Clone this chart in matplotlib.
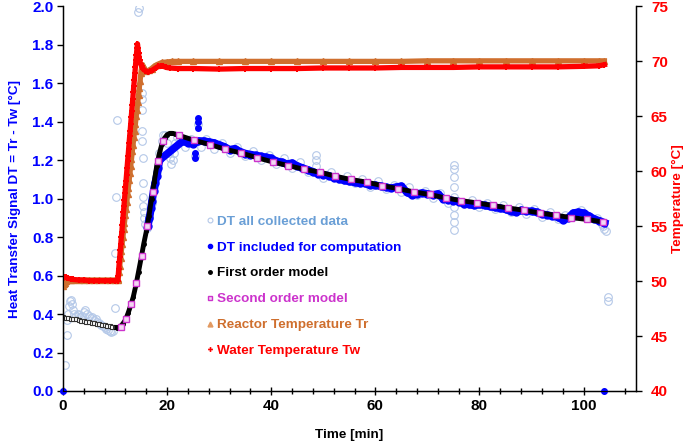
import numpy as np
import matplotlib.pyplot as plt
from matplotlib.lines import Line2D
from matplotlib.ticker import MultipleLocator

plt.rcParams['font.family'] = ['Liberation Sans', 'DejaVu Sans']
plt.rcParams['font.weight'] = 'bold'

# DT all collected data (light circles)
all_t = [0.3, 0.8, 0.7, 1.0, 1.2, 1.4, 1.6, 1.8, 2.0, 2.2, 2.5, 2.8, 3.0, 3.3, 3.6, 4.0, 4.3, 4.6,
         5.0, 5.3, 5.6, 6.0, 6.3, 6.6, 7.0, 7.3, 7.6, 8.0, 8.3, 8.6, 9.0, 9.3, 9.6, 10.0, 10.0,
         10.2, 10.3, 14.4, 14.5, 15.1, 15.1, 15.1, 15.1, 15.1, 15.3, 15.3, 15.4, 15.4, 15.5, 15.6,
         15.8, 16.1, 16.5, 17.0, 17.5, 18.0, 18.5, 19.0, 19.3, 19.6, 19.9, 20.3, 20.5, 20.7, 21.1,
         21.4, 21.6, 21.9, 22.5, 23.5, 24.5, 25.4, 25.9, 26.5, 27.5, 29, 30.5, 32, 33.5, 35, 36.5,
         38, 39.5, 41, 42.5, 44, 45.5, 47, 48.5, 48.5, 48.5, 50, 51.5, 53, 54.5, 56, 57.5, 59,
         60.5, 62, 63.5, 65, 66.5, 68, 69.5, 71, 72.5, 74, 75.1, 75.1, 75.1, 75.1, 75.1, 75.1,
         75.1, 75.1, 75.1, 77, 78.5, 80, 81.5, 83, 84.5, 86, 87.5, 89, 90.5, 92, 93.5, 95, 96.5,
         98, 99.5, 101, 102.6, 103.2, 103.5, 103.8, 104.0, 104.3, 104.6, 104.6]
all_v = [0.135, 0.29, 0.37, 0.40, 0.44, 0.47, 0.475, 0.45, 0.42, 0.40, 0.39, 0.40, 0.395, 0.385,
         0.39, 0.41, 0.42, 0.40, 0.39, 0.38, 0.385, 0.37, 0.375, 0.36, 0.355, 0.345, 0.34, 0.335,
         0.325, 0.315, 0.31, 0.305, 0.31, 0.43, 0.72, 1.01, 1.41, 1.97, 1.99, 1.55, 1.52, 1.46,
         1.35, 1.30, 1.21, 1.08, 1.01, 0.96, 0.93, 0.90, 0.87, 0.85, 0.90, 0.98, 1.06, 1.14, 1.24,
         1.30, 1.33, 1.33, 1.29, 1.24, 1.21, 1.18, 1.20, 1.24, 1.29, 1.32, 1.30, 1.27, 1.31, 1.22,
         1.39, 1.27, 1.31, 1.26, 1.29, 1.24, 1.27, 1.22, 1.25, 1.20, 1.23, 1.18, 1.21, 1.16, 1.19,
         1.14, 1.23, 1.20, 1.17, 1.11, 1.14, 1.10, 1.12, 1.08, 1.10, 1.06, 1.09, 1.05, 1.07, 1.035,
         1.06, 1.02, 1.04, 1.005, 1.03, 0.98, 1.174, 1.157, 1.113, 1.061, 1.01, 0.957, 0.914, 0.879,
         0.836, 0.97, 0.995, 0.955, 0.98, 0.945, 0.965, 0.93, 0.955, 0.92, 0.945, 0.905, 0.93,
         0.895, 0.915, 0.905, 0.94, 0.90, 0.90, 0.885, 0.87, 0.86, 0.845, 0.83, 0.49, 0.467]

# DT included for computation (blue)
incl_t = [16.3, 16.6, 16.9, 17.1, 17.4, 17.7, 18.0, 18.3, 18.5,
          23, 24, 25, 26, 27, 28, 29, 30, 31, 32, 33, 34, 35, 36, 37, 38, 39, 40, 41, 42, 43, 44,
          45, 46, 47, 48, 49, 50, 51, 52, 53, 54, 55, 56, 57, 58, 59, 60, 61, 62, 63, 64, 65, 66,
          67, 68, 69, 70, 71, 72, 73, 74, 75, 76, 77, 78, 79, 80, 81, 82, 83, 84, 85, 86, 87, 88,
          89, 90, 91, 92, 93, 94, 95, 96, 97, 98, 99, 100, 101, 102, 103, 104]
incl_v = [0.86, 0.90, 0.95, 0.99, 1.04, 1.08, 1.12, 1.16, 1.20,
          1.30, 1.29, 1.285, 1.30, 1.30, 1.295, 1.29, 1.28, 1.27, 1.255, 1.26, 1.245, 1.235, 1.23,
          1.225, 1.22, 1.215, 1.21, 1.195, 1.19, 1.18, 1.185, 1.17, 1.16, 1.15, 1.14, 1.13, 1.125,
          1.12, 1.11, 1.105, 1.095, 1.09, 1.085, 1.08, 1.08, 1.07, 1.07, 1.065, 1.06, 1.055, 1.06,
          1.065, 1.035, 1.02, 1.025, 1.03, 1.025, 1.02, 1.025, 1.0, 0.995, 0.99, 0.985, 0.975, 0.97,
          0.965, 0.97, 0.965, 0.96, 0.955, 0.95, 0.945, 0.935, 0.93, 0.94, 0.935, 0.935, 0.93,
          0.92, 0.915, 0.91, 0.905, 0.89, 0.90, 0.925, 0.93, 0.925, 0.91, 0.895, 0.885, 0.875]
incl_out_t = [0, 25.4, 25.4, 25.9, 25.9, 25.9, 104]
incl_out_v = [0.0, 1.24, 1.21, 1.42, 1.40, 1.37, 0.0]

# first order model
fo_pre_t = [0, 0.5, 1, 1.5, 2, 2.5, 3, 3.5, 4, 4.5, 5, 5.5, 6, 6.5, 7, 7.5, 8, 8.5, 9, 9.5, 10]
fo_pre_v = [0.385, 0.382, 0.380, 0.377, 0.374, 0.372, 0.369, 0.366, 0.364, 0.361, 0.358, 0.356,
            0.353, 0.350, 0.348, 0.345, 0.342, 0.340, 0.337, 0.335, 0.332]
fo_t = [10.3, 10.6, 11.0, 11.5, 12.0, 12.5, 13.0, 13.5, 14.0, 14.5, 15.0, 15.5, 16.0, 16.5, 17.0,
        17.5, 18.0, 18.5, 19.0, 19.5, 20.0, 20.5, 21.0, 21.5, 22.2, 25.2, 28.3, 31.2, 34.2, 37.2,
        40.3, 43.3, 46.3, 49.4, 52.3, 55.3, 58.4, 61.3, 64.4, 67.5, 70.4, 73.5, 76.5, 79.6, 82.5,
        85.5, 88.5, 91.6, 94.6, 97.6, 100.7, 104.0]
fo_v = [0.33, 0.33, 0.335, 0.35, 0.37, 0.405, 0.445, 0.49, 0.55, 0.62, 0.69, 0.765, 0.83, 0.91,
        1.0, 1.085, 1.17, 1.235, 1.285, 1.315, 1.333, 1.34, 1.34, 1.337, 1.33, 1.304, 1.281, 1.257,
        1.238, 1.214, 1.191, 1.172, 1.153, 1.138, 1.117, 1.10, 1.086, 1.068, 1.052, 1.035, 1.022,
        1.004, 0.99, 0.978, 0.965, 0.952, 0.94, 0.926, 0.914, 0.902, 0.892, 0.878]

# second order model
so_t = [11.1, 12.1, 13.1, 14.1, 15.1, 16.2, 17.2, 18.2, 19.2, 22.2, 25.2, 28.3, 31.2, 34.2, 37.2,
        40.3, 43.3, 46.3, 49.4, 52.3, 55.3, 58.4, 61.3, 64.4, 67.5, 70.4, 73.5, 76.5, 79.6, 82.5,
        85.5, 88.5, 91.6, 94.6, 97.6, 100.7, 103.7]
so_v = [0.334, 0.374, 0.452, 0.56, 0.70, 0.857, 1.033, 1.197, 1.30, 1.33, 1.304, 1.281, 1.257,
        1.238, 1.214, 1.191, 1.172, 1.153, 1.138, 1.117, 1.10, 1.086, 1.068, 1.052, 1.035, 1.022,
        1.004, 0.99, 0.978, 0.965, 0.952, 0.94, 0.926, 0.914, 0.902, 0.892, 0.88]

# reactor temperature Tr [°C]
tr_t = [0, 0.2, 0.4, 0.6, 0.8, 1.0, 1.5, 2, 3, 4, 5, 6, 7, 8, 9, 10, 10.5,
        10.6, 10.75, 10.9, 11.05, 11.2, 11.35, 11.5, 11.65, 11.8, 11.95, 12.1, 12.25, 12.4, 12.55,
        12.7, 12.85, 13.0, 13.15, 13.3, 13.45, 13.6, 13.75, 13.9, 14.05, 14.2, 14.35, 14.5, 14.65,
        14.8, 14.95, 15.1, 15.3, 15.6, 16.0, 16.5, 17, 17.5, 18, 18.5, 19, 20, 21, 22, 25, 30, 35,
        40, 45, 50, 55, 60, 65, 70, 75, 80, 85, 90, 95, 100, 103, 104]
tr_v = [49.6, 49.7, 49.85, 50.0, 50.1, 50.15, 50.1, 50.1, 50.1, 50.1, 50.1, 50.1, 50.1, 50.1, 50.1,
        50.1, 50.1,
        50.2, 50.8, 51.4, 52.1, 52.7, 53.4, 54.0, 54.7, 55.3, 56.0, 56.6, 57.2, 57.9, 58.5, 59.2,
        59.8, 60.5, 61.1, 61.8, 62.4, 63.1, 63.7, 64.3, 65.0, 65.6, 66.3, 66.9, 67.6, 68.2, 68.9,
        69.5, 69.65, 69.4, 69.1, 69.2, 69.35, 69.55, 69.7, 69.8, 69.9, 69.95, 70.0, 70.0, 70.0,
        70.0, 70.0, 70.0, 70.0, 70.0, 70.0, 70.0, 70.0, 70.05, 70.05, 70.05, 70.05, 70.05, 70.05,
        70.05, 70.05, 70.05]

# water temperature Tw [°C]
tw_t = [0, 0.2, 0.4, 0.6, 0.8, 1.0, 1.5, 2, 3, 4, 5, 6, 7, 8, 9, 10, 10.5,
        10.6, 10.7, 10.8, 10.9, 11.0, 11.1, 11.2, 11.3, 11.4, 11.5, 11.6, 11.7, 11.8, 11.9, 12.0,
        12.1, 12.2, 12.3, 12.4, 12.5, 12.6, 12.7, 12.8, 12.9, 13.0, 13.1, 13.2, 13.3, 13.4, 13.5,
        13.6, 13.7, 13.8, 13.9, 14.0, 14.1, 14.2, 14.3, 14.4, 14.5, 14.6, 14.7, 14.9, 15.1, 15.4,
        15.8, 16.3, 16.8, 17.3, 17.8, 18.3, 18.8, 19.3, 19.8, 20.5, 22, 25, 30, 35, 40, 45, 50, 55,
        60, 65, 70, 75, 80, 85, 90, 95, 100, 103, 104]
tw_v = [50.25, 50.35, 50.4, 50.35, 50.3, 50.25, 50.2, 50.15, 50.1, 50.1, 50.05, 50.05, 50.05,
        50.05, 50.05, 50.05, 50.05,
        50.5, 51.1, 51.7, 52.2, 52.8, 53.4, 54.0, 54.5, 55.1, 55.7, 56.3, 56.8, 57.4, 58.0, 58.6,
        59.1, 59.7, 60.3, 60.9, 61.4, 62.0, 62.6, 63.2, 63.7, 64.3, 64.9, 65.5, 66.0, 66.6, 67.2,
        67.8, 68.3, 68.9, 69.5, 70.1, 70.6, 71.2, 71.6, 71.2, 70.8, 70.4, 70.1, 69.8, 69.55, 69.3,
        69.15, 69.05, 69.1, 69.25, 69.4, 69.55, 69.6, 69.55, 69.45, 69.4, 69.35, 69.35, 69.3,
        69.35, 69.35, 69.35, 69.4, 69.4, 69.4, 69.45, 69.45, 69.45, 69.5, 69.5, 69.5, 69.5, 69.55,
        69.6, 69.7]

c_light = '#b4c8e8'
c_light_txt = '#6a9fd6'
c_blue = '#0000ff'
c_mag = '#cc33cc'
c_orange = '#cf6f2e'
c_red = '#ff0000'

fig = plt.figure(figsize=(6.85, 4.42), dpi=100)
ax1 = fig.add_axes([0.092, 0.1154, 0.836, 0.870])
ax2 = ax1.twinx()

ax1.plot(all_t, all_v, 'o', ms=5.5, mfc='none', mec=c_light, mew=0.8)
ax1.plot(incl_t, incl_v, 'o-', color=c_blue, ms=5, lw=5.5)
ax1.plot(incl_out_t, incl_out_v, 'o', color=c_blue, ms=4, clip_on=False, zorder=5)
ax1.plot(fo_pre_t, fo_pre_v, 's', ms=3.5, mfc='white', mec='#333333', mew=0.8)
ax1.plot(fo_t, fo_v, '-', color='black', lw=3.5)
ax1.plot(fo_t, fo_v, 'o', color='black', ms=2.5)
ax1.plot(so_t, so_v, 's', ms=4, mfc='#f3d6f3', mec=c_mag, mew=1)

ax2.plot(tr_t, tr_v, '^-', color=c_orange, ms=4, lw=3.8)
ax2.plot(tw_t, tw_v, 'P-', color=c_red, ms=4.5, lw=3.8, mew=0)

ax1.set_xlim(0, 110)
ax1.set_ylim(0, 2.0)
ax2.set_ylim(40, 75)
ax1.xaxis.set_major_locator(MultipleLocator(20))
ax1.xaxis.set_minor_locator(MultipleLocator(4))
ax1.yaxis.set_major_locator(MultipleLocator(0.2))
ax2.yaxis.set_major_locator(MultipleLocator(5))
ax1.yaxis.set_major_formatter(plt.FormatStrFormatter('%.1f'))

ax1.spines['top'].set_visible(False)
ax2.spines['top'].set_visible(False)
for sp in ['left', 'bottom']:
    ax1.spines[sp].set_linewidth(1)
ax2.spines['right'].set_linewidth(1)

ax1.tick_params(axis='x', which='major', direction='inout', length=6, width=1, labelsize=11, pad=3)
ax1.tick_params(axis='x', which='minor', direction='inout', length=5, width=1)
ax1.tick_params(axis='y', direction='out', length=4, width=1, labelsize=11, labelcolor=c_blue,
                pad=3)
ax2.tick_params(axis='y', direction='out', length=4, width=1, labelsize=11, labelcolor=c_red,
                pad=7)

ax1.set_xlabel('Time [min]', fontsize=9.7, fontweight='bold', labelpad=11)
ax1.set_ylabel('Heat Transfer Signal DT = Tr - Tw [°C]', fontsize=9.7, fontweight='bold',
               color=c_blue, labelpad=8)
ax2.set_ylabel('Temperature [°C]', fontsize=9.7, fontweight='bold', color=c_red, labelpad=3)

handles = [
    Line2D([], [], ls='none', marker='o', ms=3.5, mfc='none', mec=c_light, mew=0.8),
    Line2D([], [], ls='none', marker='o', ms=3, color=c_blue),
    Line2D([], [], ls='none', marker='o', ms=2.5, color='black'),
    Line2D([], [], ls='none', marker='s', ms=3.5, mfc='#f3d6f3', mec=c_mag, mew=1),
    Line2D([], [], ls='none', marker='^', ms=3.5, color='#e29a62'),
    Line2D([], [], ls='none', marker='P', ms=3.5, color=c_red, mew=0),
]
labels = ['DT all collected data', 'DT included for computation', 'First order model',
          'Second order model', 'Reactor Temperature Tr', 'Water Temperature Tw']
leg = ax2.legend(handles, labels, loc='upper left', bbox_to_anchor=(0.25, 0.457), frameon=False,
                 fontsize=9.7, handlelength=0.5, handletextpad=0.3, labelspacing=1.0,
                 borderaxespad=0, borderpad=0)
for txt, col in zip(leg.get_texts(), [c_light_txt, c_blue, 'black', c_mag, c_orange, c_red]):
    txt.set_color(col)
    txt.set_fontweight('bold')

fig.savefig('out.png', dpi=100)
